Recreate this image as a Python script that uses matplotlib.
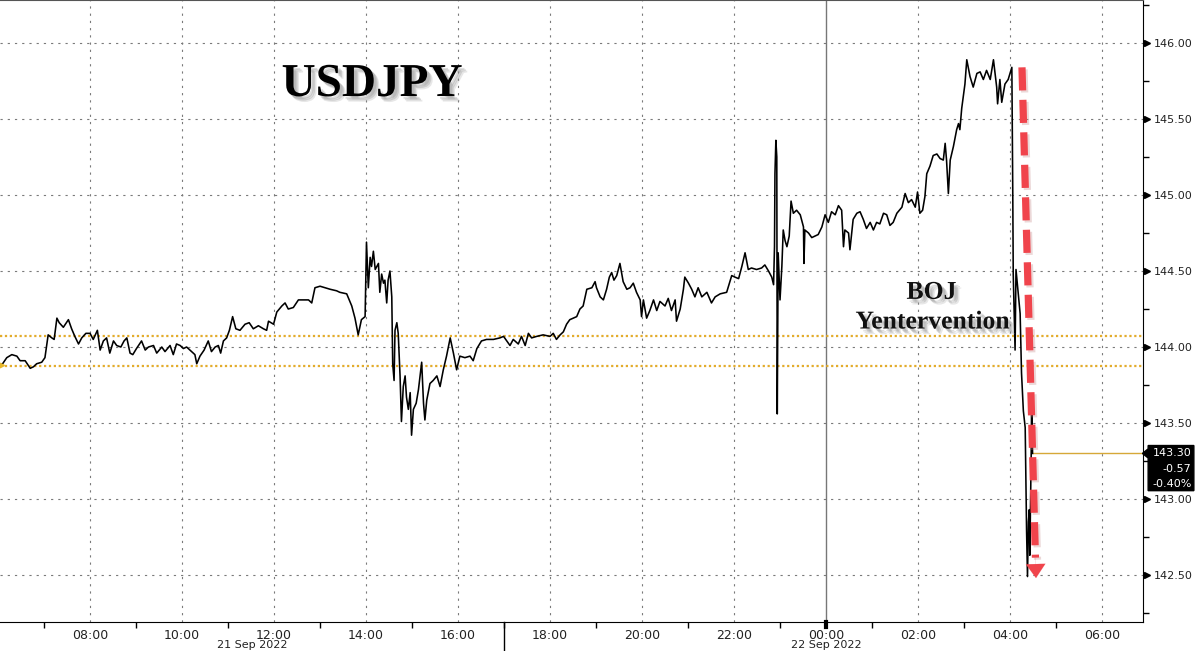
import matplotlib
matplotlib.use("Agg")
import matplotlib.pyplot as plt
import matplotlib.patheffects as pe
import matplotlib.transforms as mtransforms
from matplotlib.patches import Polygon

# ---------------- data ----------------
# USDJPY, hours counted from 21 Sep 2022 00:00 (24 = 22 Sep 00:00)
session_asia_eu = [
    (6.04, 143.88), (6.10, 143.89), (6.19, 143.93), (6.30, 143.95), (6.41, 143.94), (6.48, 143.91),
    (6.59, 143.91), (6.70, 143.86), (6.77, 143.87), (6.84, 143.89), (6.95, 143.90), (7.02, 143.93),
    (7.09, 144.08), (7.17, 144.06), (7.22, 144.05), (7.28, 144.19), (7.33, 144.16), (7.42, 144.13),
    (7.53, 144.18), (7.60, 144.12), (7.67, 144.07), (7.75, 144.02), (7.82, 144.06), (7.91, 144.09),
    (8.00, 144.09), (8.07, 144.05), (8.16, 144.11), (8.22, 143.98), (8.29, 144.04), (8.36, 144.06),
    (8.43, 143.96), (8.51, 144.04), (8.58, 144.01), (8.67, 144.00), (8.74, 144.04), (8.80, 144.06),
    (8.87, 143.96), (8.93, 143.95), (9.01, 143.99), (9.12, 144.04), (9.20, 143.98), (9.27, 144.00),
    (9.38, 144.01), (9.45, 143.96), (9.56, 144.00), (9.63, 143.97), (9.74, 144.01), (9.81, 143.95),
    (9.88, 144.02), (9.96, 144.01), (10.03, 143.99), (10.10, 144.00), (10.21, 143.97), (10.28, 143.95),
    (10.32, 143.89), (10.39, 143.94), (10.48, 143.98), (10.57, 144.04), (10.64, 143.97), (10.72, 144.00),
    (10.79, 144.01), (10.84, 143.96), (10.90, 144.04), (10.97, 144.06), (11.03, 144.11), (11.10, 144.20),
    (11.17, 144.12), (11.26, 144.11), (11.37, 144.15), (11.46, 144.16), (11.55, 144.12), (11.66, 144.14),
    (11.77, 144.12), (11.84, 144.11), (11.88, 144.17), (11.99, 144.15), (12.06, 144.23), (12.17, 144.27),
    (12.24, 144.29), (12.31, 144.25), (12.42, 144.26), (12.53, 144.31), (12.64, 144.31), (12.75, 144.31),
    (12.82, 144.29), (12.89, 144.39), (13.00, 144.40), (13.11, 144.39), (13.22, 144.38), (13.36, 144.37),
]

session_fomc = [
    (13.43, 144.36), (13.58, 144.35), (13.69, 144.27), (13.76, 144.19), (13.83, 144.08), (13.90, 144.18),
    (13.98, 144.20), (14.01, 144.69), (14.05, 144.39), (14.09, 144.59), (14.12, 144.53), (14.16, 144.63),
    (14.20, 144.51), (14.27, 144.55), (14.30, 144.36), (14.34, 144.48), (14.38, 144.42), (14.41, 144.44),
    (14.45, 144.29), (14.48, 144.44), (14.52, 144.50), (14.56, 144.33), (14.58, 143.89), (14.61, 143.78),
    (14.63, 144.11), (14.67, 144.16), (14.70, 144.09), (14.74, 143.81), (14.77, 143.51), (14.81, 143.74),
    (14.85, 143.81), (14.88, 143.67), (14.92, 143.59), (14.96, 143.70), (14.99, 143.42), (15.03, 143.59),
    (15.09, 143.63), (15.14, 143.72), (15.21, 143.90), (15.25, 143.63), (15.28, 143.52), (15.32, 143.65),
    (15.39, 143.76), (15.46, 143.78), (15.54, 143.81), (15.61, 143.74), (15.68, 143.85), (15.75, 143.94),
    (15.83, 144.06), (15.90, 143.96), (15.97, 143.85), (16.04, 143.94), (16.15, 143.93), (16.26, 143.94),
    (16.33, 143.91), (16.41, 143.99), (16.51, 144.04), (16.62, 144.05), (16.77, 144.05), (16.91, 144.06),
    (16.99, 144.07), (17.06, 144.04), (17.13, 144.01), (17.20, 144.05), (17.31, 144.02), (17.38, 144.07),
    (17.46, 144.01), (17.53, 144.09), (17.60, 144.06), (17.71, 144.07), (17.85, 144.08), (18.00, 144.07),
    (18.07, 144.09), (18.14, 144.05), (18.22, 144.08), (18.29, 144.10), (18.36, 144.15), (18.43, 144.18),
    (18.58, 144.20), (18.65, 144.25), (18.72, 144.27), (18.80, 144.38), (18.91, 144.39), (18.98, 144.43),
    (19.01, 144.39), (19.09, 144.33), (19.16, 144.31), (19.23, 144.38), (19.29, 144.46), (19.34, 144.49),
    (19.39, 144.44), (19.45, 144.47), (19.52, 144.55), (19.59, 144.43), (19.67, 144.38), (19.74, 144.39),
    (19.81, 144.42), (19.88, 144.36), (19.96, 144.31), (19.99, 144.20), (20.03, 144.31), (20.10, 144.19),
    (20.17, 144.24), (20.25, 144.31), (20.32, 144.24), (20.39, 144.30), (20.50, 144.27), (20.57, 144.32),
    (20.64, 144.24), (20.72, 144.31), (20.75, 144.17), (20.83, 144.25), (20.90, 144.38), (20.93, 144.46),
    (21.01, 144.42), (21.08, 144.38), (21.15, 144.33), (21.22, 144.39), (21.30, 144.33), (21.41, 144.36),
    (21.51, 144.29), (21.59, 144.33), (21.70, 144.35), (21.84, 144.36), (21.95, 144.47), (22.02, 144.46),
    (22.10, 144.45),
]

session_tokyo = [
    (22.17, 144.53), (22.24, 144.62), (22.31, 144.51), (22.38, 144.52), (22.49, 144.51), (22.60, 144.52),
    (22.67, 144.54), (22.75, 144.50), (22.82, 144.46), (22.86, 144.41), (22.88, 144.66), (22.89, 145.14),
    (22.91, 145.36), (22.93, 145.25), (22.94, 143.56), (22.96, 144.62), (23.00, 144.31), (23.04, 144.53),
    (23.07, 144.77), (23.11, 144.70), (23.15, 144.66), (23.20, 144.73), (23.24, 144.96), (23.29, 144.88),
    (23.36, 144.90), (23.44, 144.87), (23.51, 144.79), (23.52, 144.55), (23.54, 144.77), (23.62, 144.75),
    (23.69, 144.72), (23.76, 144.73), (23.83, 144.74), (23.91, 144.79), (23.98, 144.87), (24.05, 144.82),
    (24.12, 144.89), (24.20, 144.87), (24.27, 144.93), (24.34, 144.90), (24.38, 144.66), (24.41, 144.77),
    (24.49, 144.75), (24.52, 144.64), (24.59, 144.84), (24.67, 144.88), (24.74, 144.89), (24.81, 144.84),
    (24.88, 144.78), (24.96, 144.82), (25.03, 144.77), (25.10, 144.82), (25.17, 144.81), (25.25, 144.88),
    (25.32, 144.87), (25.39, 144.80), (25.46, 144.82), (25.54, 144.88), (25.65, 144.92), (25.72, 145.01),
    (25.79, 144.95), (25.86, 144.97), (25.94, 144.92), (25.99, 145.02), (26.04, 144.88), (26.10, 144.90),
    (26.15, 144.99), (26.19, 145.14), (26.26, 145.19), (26.33, 145.26), (26.41, 145.27), (26.48, 145.24),
    (26.55, 145.23), (26.59, 145.34), (26.62, 145.23), (26.66, 145.01), (26.70, 145.23), (26.77, 145.32),
    (26.84, 145.43), (26.88, 145.47), (26.91, 145.43), (26.95, 145.57), (27.02, 145.73), (27.06, 145.89),
    (27.13, 145.78), (27.20, 145.71), (27.28, 145.80), (27.35, 145.81), (27.42, 145.76), (27.49, 145.82),
    (27.57, 145.76), (27.64, 145.89), (27.71, 145.71), (27.73, 145.60), (27.78, 145.76), (27.82, 145.61),
    (27.89, 145.73), (27.96, 145.76), (28.04, 145.84), (28.06, 145.01), (28.07, 144.48), (28.11, 143.98),
    (28.13, 144.51), (28.18, 144.35), (28.22, 144.22), (28.25, 143.83),
]

session_intervention = [
    (28.29, 143.58), (28.33, 143.47), (28.35, 143.01), (28.36, 142.79), (28.38, 142.49), (28.40, 142.85),
    (28.42, 142.93), (28.43, 142.63), (28.46, 143.28), (28.47, 143.64), (28.49, 143.30),
]

ref_levels = [144.07, 143.875]
last_price = 143.30
last_change = "-0.57"
last_change_pct = "-0.40%"

y_ticks = [142.5, 143.0, 143.5, 144.0, 144.5, 145.0, 145.5, 146.0]
y_minor = [142.25, 142.75, 143.25, 143.75, 144.25, 144.75, 145.25, 145.75, 146.25]
x_ticks = [8, 10, 12, 14, 16, 18, 20, 22, 24, 26, 28, 30]
x_labels = ["08:00", "10:00", "12:00", "14:00", "16:00", "18:00",
            "20:00", "22:00", "00:00", "02:00", "04:00", "06:00"]
x_minor = [7, 9, 11, 13, 15, 17, 19, 21, 23, 25, 27, 29]
date_labels = ["21 Sep 2022", "22 Sep 2022"]
date_label_pos = [11.52, 24.0]
date_break = 17
midnight = 24
arrow_tail = (28.26, 145.84)
arrow_tip = (28.565, 142.48)

# ---------------- figure ----------------
hours, price = zip(*(session_asia_eu + session_fomc + session_tokyo + session_intervention))

fig = plt.figure(figsize=(11.95, 6.51), dpi=100)
fig.patch.set_facecolor("white")
ax = fig.add_axes([0.0, 29 / 651, 1143 / 1195, 622 / 651])
ax.set_xlim(6.043, 30.891)
ax.set_ylim(142.191, 146.283)

grid_kw = dict(color="#7a7a7a", lw=0.8, dashes=(2.0, 4.5), zorder=1)
for yv in y_ticks:
    ax.axhline(yv, **grid_kw)
for xv in x_ticks:
    if xv != midnight:
        ax.axvline(xv, **grid_kw)
ax.axvline(midnight, color="#777777", lw=1.0, zorder=1)

for lvl in ref_levels:
    ax.axhline(lvl, color="#e3ac2c", lw=1.6, ls=(0, (1, 1.2)), zorder=2)

ax.plot(hours, price, color="black", lw=1.15, zorder=4)
ax.plot([hours[0]], [price[0]], marker=">", ms=6, color="#e8b82a", clip_on=False, zorder=5)

# last price line
ax.plot([hours[-1], 30.891], [last_price, last_price], color="#d6a838", lw=1.0, zorder=3)

# spines
ax.spines["left"].set_visible(False)
ax.spines["top"].set_color("#555555")
ax.spines["right"].set_color("black")
ax.spines["bottom"].set_color("black")

# y axis on the right
ax.yaxis.tick_right()
ax.set_yticks(y_ticks)
ax.set_yticklabels([f"{v:.2f}" for v in y_ticks])
ax.set_yticks(y_minor, minor=True)
ax.tick_params(axis="y", which="major", length=0, pad=8, labelsize=8, labelcolor="#222222")
ax.tick_params(axis="y", which="minor", length=4, width=1, direction="out", color="black")
ytrans = mtransforms.blended_transform_factory(ax.transAxes, ax.transData)
ytrans_off = mtransforms.offset_copy(ytrans, fig=fig, x=4, y=0, units="dots")
ax.plot([1.0] * len(y_ticks), y_ticks, ls="none", marker=">", ms=4.5, color="black",
        transform=ytrans_off, clip_on=False, zorder=6)

# x axis
ax.set_xticks(x_ticks)
ax.set_xticklabels(x_labels)
ax.set_xticks(x_minor, minor=True)
ax.tick_params(axis="x", which="major", length=0, pad=5, labelsize=9, labelcolor="#222222")
ax.tick_params(axis="x", which="minor", length=4, width=1, direction="out", color="black")
xtrans = mtransforms.blended_transform_factory(ax.transData, ax.transAxes)
ax.plot([date_break, date_break], [0, -0.06], color="black", lw=1.0, transform=xtrans, clip_on=False)
ax.plot([midnight, midnight], [0, -0.008], color="black", lw=3.0, transform=xtrans, clip_on=False)
for lab, pos in zip(date_labels, date_label_pos):
    ax.text(pos, -0.029, lab, transform=xtrans, ha="center", va="top", fontsize=8, color="#222222")

# price tag box
box = Polygon([(1.0045, last_price + 0.052), (1.0445, last_price + 0.052), (1.0445, last_price - 0.245),
               (1.0045, last_price - 0.245), (1.0045, last_price - 0.03), (0.9995, last_price),
               (1.0045, last_price + 0.03)], closed=True, facecolor="black", edgecolor="black",
              transform=ytrans, clip_on=False, zorder=7)
ax.add_patch(box)
for txt, dy in zip([f"{last_price:.2f}", last_change, last_change_pct], [0.0, 0.103, 0.203]):
    ax.text(1.0425, last_price - dy, txt, transform=ytrans, ha="right", va="center",
            fontsize=8, color="white", zorder=8, clip_on=False)

# annotations
shadow = [pe.SimplePatchShadow(offset=(4, -4), shadow_rgbFace="#a0a0a0", alpha=0.25),
          pe.SimplePatchShadow(offset=(3, -3), shadow_rgbFace="#909090", alpha=0.3),
          pe.SimplePatchShadow(offset=(2, -2), shadow_rgbFace="#909090", alpha=0.3),
          pe.Normal()]
ax.text(0.3255, 0.8633, "USDJPY", transform=ax.transAxes, ha="center", va="center",
        fontsize=34, fontweight="bold", family="Liberation Serif", color="black",
        path_effects=shadow, zorder=6)
ax.text(0.8150, 0.5300, "BOJ", transform=ax.transAxes, ha="center", va="center",
        fontsize=18.5, fontweight="bold", family="Liberation Serif", color="#111111",
        path_effects=shadow, zorder=6)
ax.text(0.8160, 0.4823, "Yentervention", transform=ax.transAxes, ha="center", va="center",
        fontsize=18.5, fontweight="bold", family="Liberation Serif", color="#111111",
        path_effects=shadow, zorder=6)

# red dashed arrow
frac = 0.96
shaft_end = (arrow_tail[0] + frac * (arrow_tip[0] - arrow_tail[0]),
             arrow_tail[1] + frac * (arrow_tip[1] - arrow_tail[1]))
ax.plot([arrow_tail[0], shaft_end[0]], [arrow_tail[1], shaft_end[1]], color="#f0444c", lw=5.2,
        dashes=(3.2, 1.3), dash_capstyle="butt", zorder=7,
        path_effects=[pe.SimpleLineShadow(offset=(1.5, -1.5), shadow_color="#c08080", alpha=0.3),
                      pe.Normal()])
ax.annotate("", xy=arrow_tip, xytext=shaft_end,
            arrowprops=dict(arrowstyle="-|>,head_length=1.0,head_width=0.7", color="#f0444c",
                            lw=0.1, shrinkA=0, shrinkB=0), zorder=7)

fig.savefig("out.png", dpi=100, facecolor="white")
